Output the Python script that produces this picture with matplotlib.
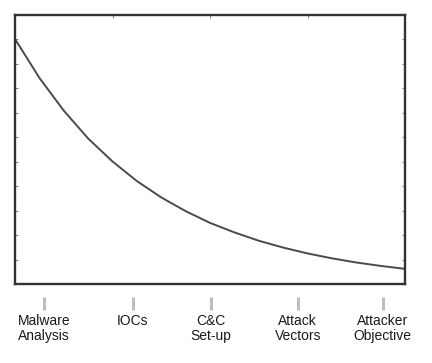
import matplotlib.pyplot as plt

plt.rcParams['font.family'] = ['Liberation Sans', 'DejaVu Sans']

# curve (x: 0..4 across the box, y: 0..11 tick units)
curve_x = [0, 0.25, 0.5, 0.75, 1.0, 1.25, 1.5, 1.75, 2.0, 2.25, 2.5, 2.75, 3.0, 3.25, 3.5, 3.75, 4.0]
curve_y = [10.02, 8.43, 7.09, 5.95, 5.01, 4.21, 3.54, 2.98, 2.50, 2.11, 1.77, 1.49, 1.25, 1.05, 0.88, 0.74, 0.62]

stages = ['Malware\nAnalysis', 'IOCs', 'C&C\nSet-up', 'Attack\nVectors', 'Attacker\nObjective']
stage_pos = [0.30, 1.21, 2.01, 2.90, 3.77]

fig = plt.figure(figsize=(4.32, 3.63), dpi=100)
ax = fig.add_axes([15/432, 79/363, 390/432, 269/363])

ax.plot(curve_x, curve_y, color='#4a4a4a', lw=1.4)
ax.set_xlim(0, 4)
ax.set_ylim(0, 11)

for s in ax.spines.values():
    s.set_color('#333333')
    s.set_linewidth(1.7)

ax.set_xticks([1, 2, 3])
ax.set_yticks(range(1, 11))
ax.tick_params(axis='both', direction='in', length=2.5, width=0.8, color='#888888',
               top=True, bottom=False, left=True, right=True,
               labelbottom=False, labelleft=False)

sec = ax.secondary_xaxis(-13/269)
sec.spines['bottom'].set_visible(False)
sec.set_xticks(stage_pos)
sec.set_xticklabels(stages, fontsize=10, color='#1a1a1a', linespacing=1.1)
sec.tick_params(axis='x', direction='out', length=9.4, width=2.2, color='#bdbdbd', pad=3)

fig.savefig('out.png', dpi=100)
